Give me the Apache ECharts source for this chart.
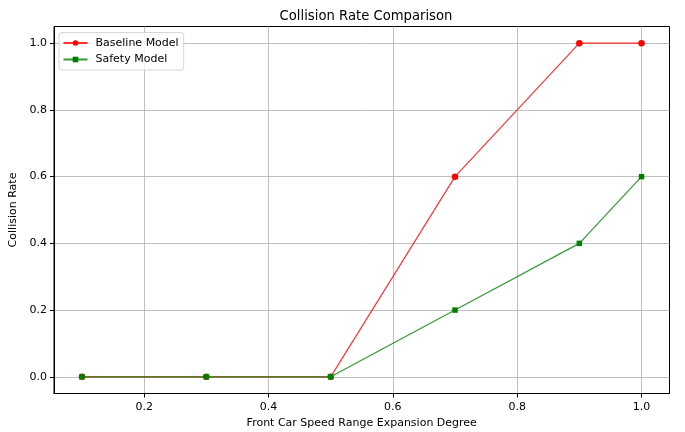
<!DOCTYPE html>
<html><head><meta charset="utf-8">
<script src="https://cdn.jsdelivr.net/npm/echarts@6/dist/echarts.min.js"></script>
<style>html,body{margin:0;padding:0;background:#fff}#c{width:685px;height:432px}</style>
</head><body><div id="c"></div>
<script>
const xValues = [0.1, 0.3, 0.5, 0.7, 0.9, 1.0];
const baseline = [0, 0, 0, 0.6, 1.0, 1.0];
const safety = [0, 0, 0, 0.2, 0.4, 0.6];
const xTicks = [0.2, 0.4, 0.6, 0.8, 1.0];
const yTicks = [0.0, 0.2, 0.4, 0.6, 0.8, 1.0];

const font = 'DejaVu Sans';
const chart = echarts.init(document.getElementById('c'), null, {renderer: 'canvas'});
chart.setOption({
  animation: false,
  backgroundColor: '#fff',
  title: {text: 'Collision Rate Comparison', left: 361, top: 5, textAlign: 'center',
    textStyle: {fontFamily: font, fontSize: 13.2, fontWeight: 'normal', color: '#000'}},
  grid: {left: 54, right: 15.5, top: 26.5, bottom: 38.5, show: true, borderColor: '#000', borderWidth: 1,
    backgroundColor: 'transparent', containLabel: false, outerBoundsMode: 'none'},
  legend: {
    left: 59, top: 32.5, orient: 'vertical', itemWidth: 24, itemHeight: 7, itemGap: 4.5,
    padding: [4.5, 5, 4.5, 3.5],
    backgroundColor: 'rgba(255,255,255,0.8)', borderColor: '#d6d6d6', borderWidth: 1, borderRadius: 3,
    textStyle: {fontFamily: font, fontSize: 11, color: '#000', lineHeight: 12, padding: [0, 0, 0, 3]},
    data: ['Baseline Model', 'Safety Model']
  },
  xAxis: {
    type: 'value', min: 0.055, max: 1.045,
    name: 'Front Car Speed Range Expansion Degree', nameLocation: 'middle', nameGap: 24,
    nameTextStyle: {fontFamily: font, fontSize: 11, color: '#000'},
    axisLine: {show: true, onZero: false, lineStyle: {color: '#000', width: 1}},
    axisTick: {show: true, length: 4, customValues: xTicks, lineStyle: {color: '#000'}},
    axisLabel: {customValues: xTicks, fontFamily: font, fontSize: 11, color: '#000', margin: 8,
      formatter: v => v.toFixed(1)},
    splitLine: {show: true, lineStyle: {color: '#b0b0b0', width: 0.8}}
  },
  yAxis: {
    type: 'value', min: -0.05, max: 1.05,
    name: 'Collision Rate', nameLocation: 'middle', nameGap: 31,
    nameTextStyle: {fontFamily: font, fontSize: 11, color: '#000'},
    axisLine: {show: true, lineStyle: {color: '#000', width: 1}},
    axisTick: {show: true, length: 4, customValues: yTicks, lineStyle: {color: '#000'}},
    axisLabel: {customValues: yTicks, fontFamily: font, fontSize: 11, color: '#000', margin: 7,
      formatter: v => v.toFixed(1)},
    splitLine: {show: true, lineStyle: {color: '#b0b0b0', width: 0.8}}
  },
  series: [
    {name: 'Baseline Model', type: 'line', data: xValues.map((x, i) => [x, baseline[i]]),
      symbol: 'circle', symbolSize: 6.5, color: '#ff0000',
      lineStyle: {color: 'rgba(255,0,0,0.8)', width: 1.2}, itemStyle: {color: '#ff0000'}, z: 2},
    {name: 'Safety Model', type: 'line', data: xValues.map((x, i) => [x, safety[i]]),
      symbol: 'rect', symbolSize: 5.5, color: '#008000',
      lineStyle: {color: 'rgba(0,128,0,0.8)', width: 1.2}, itemStyle: {color: '#008000'}, z: 3}
  ]
});
</script></body></html>
